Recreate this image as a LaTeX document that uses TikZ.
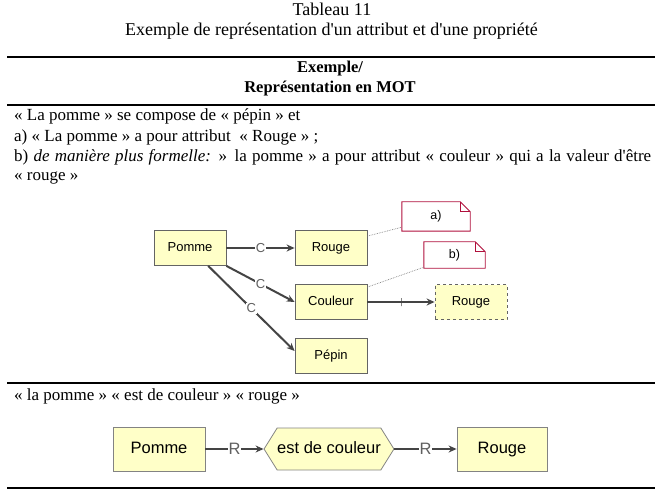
\documentclass[tikz,border=0pt]{standalone}
\usepackage{fontspec}
\setmainfont{Liberation Serif}[Ligatures=TeXOff]
\newfontfamily\diagfont{Liberation Sans}
\usetikzlibrary{shapes.symbols,arrows.meta,calc}
\definecolor{boxfill}{RGB}{255,255,200}
\definecolor{boxline}{RGB}{100,100,100}
\definecolor{arrowcol}{RGB}{68,68,68}
\definecolor{notered}{RGB}{176,16,60}
\tikzset{
  concept/.style={draw=boxline, fill=boxfill, line width=0.8pt, minimum width=72pt, minimum height=35pt, inner sep=0pt, text height=9.5pt, text depth=2.5pt, font=\diagfont\fontsize{13}{15}\selectfont},
  bigconcept/.style={draw=boxline!80, fill=boxfill, line width=0.8pt, minimum height=44pt, inner sep=0pt, text height=12pt, text depth=3.5pt, font=\diagfont\fontsize{16.5}{19}\selectfont},
  link/.style={draw=arrowcol, line width=2pt, -{Stealth[length=8pt,width=7pt]}},
  linklabel/.style={fill=white, inner sep=0.5pt, text=arrowcol!85, font=\diagfont\fontsize{13}{15}\selectfont},
  biglabel/.style={fill=white, inner sep=0.3pt, text=arrowcol!85, font=\diagfont\fontsize{16.5}{19}\selectfont},
  notebox/.style={minimum width=68pt, minimum height=29pt, inner sep=0pt},
  notetext/.style={font=\diagfont\fontsize{12.5}{15}\selectfont},
  notedraw/.style={draw=notered, fill=white, line width=0.9pt},
  dotlink/.style={draw=gray, densely dotted, line width=0.7pt},
  rulestyle/.style={line width=1.3pt},
  bodytext/.style={anchor=base west, inner sep=0pt, font=\fontsize{17}{20}\selectfont},
  titletext/.style={anchor=base, inner sep=0pt, font=\fontsize{18}{21}\selectfont},
  headtext/.style={anchor=base, inner sep=0pt, font=\fontsize{16.5}{20}\selectfont\bfseries},
}
\begin{document}
\begin{tikzpicture}[x=1pt,y=-1pt]
\useasboundingbox (0,0) rectangle (662,492);
% title
\node[titletext] (t1) at (332,16) {Tableau 11};
\node[titletext] (t2) at (331.5,35.5) {Exemple de représentation d'un attribut et d'une propriété};
\draw[rulestyle] (7,57) -- (655,57);
\node[headtext] (h1) at (330,73) {Exemple/};
\node[headtext] (h2) at (330,93) {Représentation en MOT};
\draw[rulestyle] (7,105) -- (655,105);
% body text
\node[bodytext] (l1) at (14,121) {« La pomme » se compose de « pépin » et};
\node[bodytext] (l2) at (14,141.5) {a) « La pomme » a pour attribut\ \ « Rouge » ;};
\node[bodytext] (l3) at (14,162) {\makebox[637pt][s]{b) \textit{de manière plus formelle:} » la pomme » a pour attribut « couleur » qui a la valeur d'être}};
\node[bodytext] (l4) at (14,181) {« rouge »};
% diagram top
\node[concept] (pomme) at (190,248) {Pomme};
\node[concept] (rouge) at (331,248) {Rouge};
\node[concept] (couleur) at (331,302) {Couleur};
\node[concept] (pepin) at (331,356) {Pépin};
\node[concept, dashed] (rouge2) at (471,302) {Rouge};
% notes
\node[notebox] (na) at (436,216.5) {};
\node[notebox, minimum width=61pt, minimum height=26pt] (nb) at (454.5,255) {};
\draw[notedraw] (na.south west) -- (na.north west) -- ([xshift=-10pt]na.north east) -- ([yshift=-10pt]na.north east) -- (na.south east) -- cycle;
\draw[notered, line width=0.7pt] ([xshift=-10pt]na.north east) -- ([xshift=-10pt,yshift=-10pt]na.north east) -- ([yshift=-10pt]na.north east);
\node[notetext] (nat) at (na.center) {a)};
\draw[notedraw] (nb.south west) -- (nb.north west) -- ([xshift=-10pt]nb.north east) -- ([yshift=-10pt]nb.north east) -- (nb.south east) -- cycle;
\draw[notered, line width=0.7pt] ([xshift=-10pt]nb.north east) -- ([xshift=-10pt,yshift=-10pt]nb.north east) -- ([yshift=-10pt]nb.north east);
\node[notetext] (nbt) at (nb.center) {b)};
\draw[dotlink] ([yshift=-6pt]rouge.north east) -- ([yshift=4pt]na.south west);
\draw[dotlink] ([yshift=-3pt]couleur.north east) -- ([yshift=1pt]nb.south west);
% links
\draw[link] (pomme.east) -- node[linklabel] {C} (rouge.west);
\draw[link] (pomme.south east) -- node[linklabel] {C} (couleur.west);
\draw[link] ($(pomme.south)!0.5!(pomme.south east)$) -- node[linklabel] {C} ([yshift=5pt]pepin.west);
\draw[link] (couleur.east) -- node[pos=0.5, draw=arrowcol, line width=0.9pt, minimum height=8pt, minimum width=0pt, inner sep=0pt] (tick) {} (rouge2.west);
% lower part
\draw[rulestyle] (7,383) -- (655,383);
\node[bodytext] (l5) at (14,400) {« la pomme » « est de couleur » « rouge »};
\node[bigconcept, minimum width=92pt] (P2) at (159,449) {Pomme};
\node[bigconcept, signal, signal to=west and east, signal pointer angle=116, minimum width=128pt, minimum height=42pt] (hex) at (329,449) {est de couleur};
\node[bigconcept, minimum width=90pt] (R2) at (502,449) {Rouge};
\draw[link] (P2.east) -- node[biglabel] {R} (hex.west);
\draw[link] (hex.east) -- node[biglabel] {R} (R2.west);
\draw[rulestyle] (7,488) -- (655,488);
\end{tikzpicture}
\end{document}
